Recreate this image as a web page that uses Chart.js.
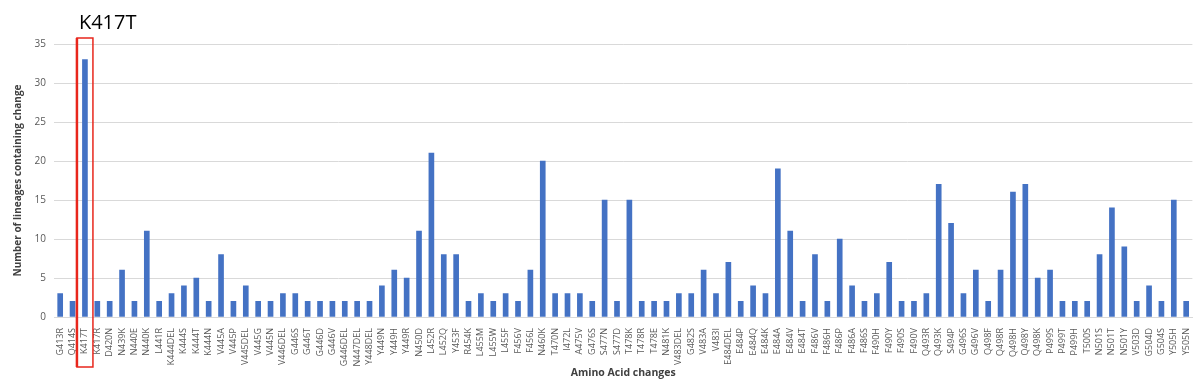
<!DOCTYPE html>
<html>
<head>
<meta charset="utf-8">
<script src="https://cdn.jsdelivr.net/npm/chart.js@4/dist/chart.umd.min.js"></script>
<style>
  html, body { margin: 0; padding: 0; background: #fff; }
  #wrap { width: 1200px; height: 384px; position: relative; }
</style>
</head>
<body>
<div id="wrap"><canvas id="mutationsCanvas"></canvas></div>
<script>
// mutations (axe x)
var mutations = [
    'G413R', 'Q414S', 'K417T', 'K417R', 'D420N', 'N439K', 'N440E', 'N440K', 'L441R', 'K444DEL',
    'K444S', 'K444T', 'K444N', 'V445A', 'V445P', 'V445DEL', 'V445G', 'V445N', 'V446DEL', 'G446S',
    'G446T', 'G446D', 'G446V', 'G446DEL', 'N447DEL', 'Y448DEL', 'Y449N', 'Y449H', 'Y449R', 'N450D',
    'L452R', 'L452Q', 'Y453F', 'R454K', 'L455M', 'L455W', 'L455F', 'F456V', 'F456L', 'N460K',
    'T470N', 'I472L', 'A475V', 'G476S', 'S477N', 'S477D', 'T478K', 'T478R', 'T478E', 'N481K',
    'V483DEL', 'G482S', 'V483A', 'V483I', 'E484DEL', 'E484P', 'E484Q', 'E484K', 'E484A', 'E484V',
    'E484T', 'F486V', 'F486H', 'F486P', 'F486A', 'F486S', 'F490H', 'F490Y', 'F490S', 'F490V',
    'Q493R', 'Q493K', 'S494P', 'G496S', 'G496V', 'Q498F', 'Q498R', 'Q498H', 'Q498Y', 'Q498K',
    'P499S', 'P499T', 'P499H', 'T500S', 'N501S', 'N501T', 'N501Y', 'V503D', 'G504D', 'G504S',
    'Y505H', 'Y505N'
];

// nombre de lignées par mutation
var lineages = [
    3, 2, 33, 2, 2, 6, 2, 11, 2, 3,
    4, 5, 2, 8, 2, 4, 2, 2, 3, 3,
    2, 2, 2, 2, 2, 2, 4, 6, 5, 11,
    21, 8, 8, 2, 3, 2, 3, 2, 6, 20,
    3, 3, 3, 2, 15, 2, 15, 2, 2, 2,
    3, 3, 6, 3, 7, 2, 4, 3, 19, 11,
    2, 8, 2, 10, 4, 2, 3, 7, 2, 2,
    3, 17, 12, 3, 6, 2, 6, 16, 17, 5,
    6, 2, 2, 2, 8, 14, 9, 2, 4, 2,
    15, 2
];

var yTicks = [0, 5, 10, 15, 20, 25, 30, 35];
var highlighted = 'K417T';

// cadre rouge autour de K417T
var highlightPlugin = {
    id: 'highlight',
    afterDraw: function (chart) {
        var ctx = chart.ctx;
        var x = chart.scales.x.getPixelForValue(mutations.indexOf(highlighted));
        var left = x - 8, right = x + 8, top = 38, bottom = 367;
        ctx.save();
        ctx.strokeStyle = '#e8261c';
        ctx.lineWidth = 1.5;
        ctx.strokeRect(left, top, right - left, bottom - top);
        ctx.lineWidth = 2.5;
        ctx.beginPath();
        ctx.moveTo(left, top);
        ctx.lineTo(left, bottom);
        ctx.stroke();
        ctx.fillStyle = '#000';
        ctx.font = '20px "Open Sans", sans-serif';
        ctx.textBaseline = 'alphabetic';
        ctx.fillText(highlighted, left + 2, 29);
        ctx.restore();
    }
};

var config = {
    type: 'bar',
    data: {
        labels: mutations,
        datasets: [
            {
                label: 'lineages',
                data: lineages,
                backgroundColor: '#4472c4',
                borderWidth: 0,
                barThickness: 5
            }
        ]
    },
    options: {
        responsive: true,
        maintainAspectRatio: false,
        animation: false,
        layout: { padding: { top: 44, right: 4, left: 12, bottom: 5 } },
        plugins: {
            legend: { display: false },
            tooltip: { enabled: false }
        },
        scales: {
            x: {
                afterFit: function (axis) { axis.height = 62; },
                grid: { display: false },
                border: { color: '#d9d9d9' },
                ticks: {
                    autoSkip: false,
                    minRotation: 90,
                    maxRotation: 90,
                    color: '#595959',
                    font: { size: 9, family: '"Open Sans", sans-serif' },
                    padding: 3
                },
                title: {
                    display: true,
                    text: 'Amino Acid changes',
                    color: '#404040',
                    font: { size: 10.5, weight: 'bold', family: '"Open Sans", sans-serif' },
                    padding: { top: 2, bottom: 0 }
                }
            },
            y: {
                min: 0,
                max: 35,
                afterBuildTicks: function (axis) {
                    axis.ticks = yTicks.map(function (v) { return { value: v }; });
                },
                afterFit: function (axis) { axis.width = 42; },
                grid: { color: '#d9d9d9', drawTicks: false },
                border: { display: false },
                ticks: {
                    color: '#595959',
                    font: { size: 10, family: '"Open Sans", sans-serif' },
                    padding: 8
                },
                title: {
                    display: true,
                    text: 'Number of lineages containing change',
                    color: '#404040',
                    font: { size: 10, weight: 'bold', family: '"Open Sans", sans-serif' },
                    padding: { top: 0, bottom: 4 }
                }
            }
        }
    },
    plugins: [highlightPlugin]
};

var ctx1 = document.getElementById('mutationsCanvas').getContext('2d');
var mutationsChart = new Chart(ctx1, config);
</script>
</body>
</html>
